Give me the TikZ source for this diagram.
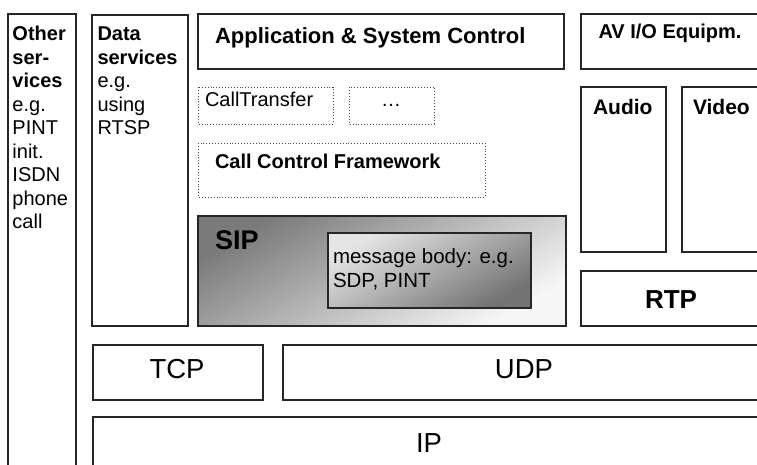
\documentclass[tikz,border=0pt]{standalone}
\usepackage{fontspec}
\setmainfont{Liberation Sans}
\begin{document}
\begin{tikzpicture}[x=1pt,y=-1pt,
  box/.style={draw=black!85,line width=1.15pt},
  dotbox/.style={draw=black!70,line width=0.9pt,dotted},
  txt/.style={inner sep=0pt,outer sep=0pt},
  fa/.style={font=\fontsize{20}{23.5}\selectfont},
  fb/.style={font=\bfseries\fontsize{20}{23.5}\selectfont},
  fbig/.style={font=\fontsize{27.5}{30}\selectfont},
]
\useasboundingbox (0,0) rectangle (757,465);
\clip (0,0) rectangle (757,465);
\fill[white] (0,0) rectangle (757,465);
% boxes
\draw[box] (8,14) rectangle (76,480) coordinate (otherc);
\draw[box] (92,15) rectangle (188,326) coordinate (datac);
\draw[box] (198,14) rectangle (564,69) coordinate (appc);
\draw[dotbox] (198,87) rectangle (333,124) coordinate (ctc);
\draw[dotbox] (349,87) rectangle (434,124) coordinate (dotc);
\draw[dotbox] (198,143) rectangle (485,197) coordinate (ccfc);
\shade[shading=axis,top color=black!52,bottom color=black!3,shading angle=30] (198,216) rectangle (566,326);
\draw[box] (198,216) rectangle (566,326) coordinate (sipc);
\shade[shading=axis,top color=black!10,bottom color=black!55,shading angle=30] (328,233) rectangle (531,308);
\draw[box] (328,233) rectangle (531,308) coordinate (bodyc);
\draw[box] (581,14) rectangle (770,69) coordinate (avc);
\draw[box] (581,87) rectangle (666,252) coordinate (audioc);
\draw[box] (682,87) rectangle (770,252) coordinate (videoc);
\draw[box] (581,271) rectangle (770,326) coordinate (rtpc);
\draw[box] (93,345) rectangle (263,400) coordinate (tcpc);
\draw[box] (283,345) rectangle (770,400) coordinate (udpc);
\draw[box] (93,417) rectangle (770,490) coordinate (ipc);
% texts
\node[txt,anchor=base west] (other) at (12.5,41) {\parbox[t]{62pt}{\raggedright\fontsize{20}{23.5}\selectfont\textbf{Other\\ser-\\vices}\\e.g.\\PINT\\init.\\ISDN\\phone\\call}};
\node[txt,anchor=base west] (data) at (97.5,41) {\parbox[t]{90pt}{\raggedright\fontsize{20}{23.5}\selectfont\textbf{Data\\services}\\e.g.\\using\\RTSP}};
\node[txt,anchor=base west,font=\bfseries\fontsize{22}{26}\selectfont] (app) at (215,44) {Application \& System Control};
\node[txt,anchor=base west,fa] (ct) at (205,107) {CallTransfer};
\node[txt,anchor=base,fa] (dots) at (391,107) {…};
\node[txt,anchor=base west,fb] (ccf) at (215,168) {Call Control Framework};
\node[txt,anchor=base west,font=\bfseries\fontsize{27}{30}\selectfont] (sip) at (215,249) {SIP};
\node[txt,anchor=base west] (body) at (333,263) {\parbox[t]{195pt}{\raggedright\fontsize{20.5}{24}\selectfont message body: e.g.\\SDP, PINT}};
\node[txt,anchor=base,fb] (av) at (670,39) {AV I/O Equipm.};
\node[txt,anchor=base west,font=\bfseries\fontsize{21}{24}\selectfont] (audio) at (593,115) {Audio};
\node[txt,anchor=base west,font=\bfseries\fontsize{21}{24}\selectfont] (video) at (693,115) {Video};
\node[txt,anchor=base,font=\bfseries\fontsize{26}{30}\selectfont] (rtp) at (671,308) {RTP};
\node[txt,anchor=base,fbig] (tcp) at (177,378) {TCP};
\node[txt,anchor=base,fbig] (udp) at (524,378) {UDP};
\node[txt,anchor=base,fbig] (ip) at (429,452) {IP};
\end{tikzpicture}
\end{document}
